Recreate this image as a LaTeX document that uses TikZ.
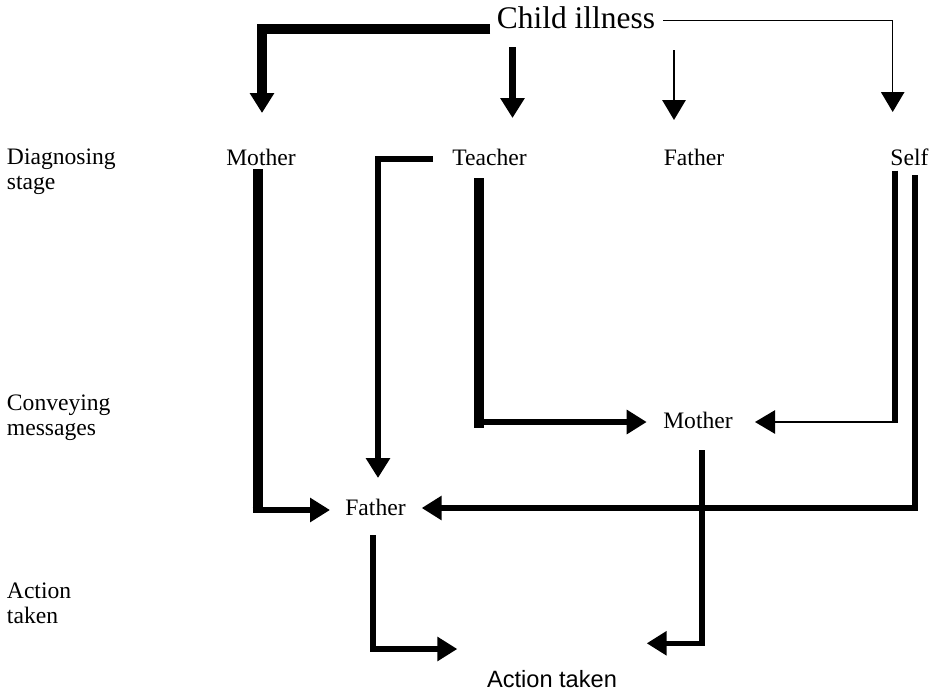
\documentclass[tikz,border=0pt]{standalone}
\usepackage{fontspec}
\setmainfont{Liberation Serif}
\newfontfamily\arialfont{Liberation Sans}
\usetikzlibrary{arrows.meta}
\begin{document}
\begin{tikzpicture}[x=0.75pt,y=-0.75pt,line join=miter,
  lbl/.style={inner sep=0pt, anchor=base, font=\fontsize{17.7pt}{20pt}\selectfont},
  side/.style={lbl, anchor=base west},
  tip/.style={-{Triangle[length=15pt,width=17.5pt]}},
  wA/.style={line width=7.5pt},
  wB/.style={line width=4.6pt},
  wC/.style={line width=4.1pt},
  wD/.style={line width=1.5pt},
  wE/.style={line width=1.1pt}]
\useasboundingbox (0,0) rectangle (933,690);

% texts
\node[lbl, font=\fontsize{23.6pt}{26pt}\selectfont] (ill) at (576,28) {Child illness};
\node[lbl] (m1) at (261,165) {Mother};
\node[lbl] (t1) at (489.5,165) {Teacher};
\node[lbl] (f1) at (694,165) {Father};
\node[lbl] (s1) at (909.5,165) {Self};
\node[lbl] (m2) at (698,428) {Mother};
\node[lbl] (f2) at (375.5,515) {Father};
\node[lbl, font=\arialfont\fontsize{17.7pt}{20pt}\selectfont] (act) at (552,687) {Action taken};

\node[side] (d1) at (6.7,164) {Diagnosing};
\node[side] (d2) at (6.7,189) {stage};
\node[side] (c1) at (6.7,410) {Conveying};
\node[side] (c2) at (6.7,435) {messages};
\node[side] (x1) at (6.7,598) {Action};
\node[side] (x2) at (6.7,623) {taken};

% connector points
\coordinate (illW) at (490,29);
\coordinate (k1) at (262,29);
\coordinate (m1top) at (262,113);
\coordinate (illT) at (512.5,47);
\coordinate (t1top) at (512.5,118);
\coordinate (illF) at (674,50);
\coordinate (f1top) at (674,120);
\coordinate (illE) at (663,20.7);
\coordinate (k2) at (892.7,20.7);
\coordinate (s1top) at (892.7,112);

\coordinate (m1bot) at (257.5,169);
\coordinate (k3) at (257.5,513);
\coordinate (k3h) at (252.5,510);
\coordinate (f2W) at (330,510);

\coordinate (t1W) at (432.7,159);
\coordinate (k4) at (378,159);
\coordinate (f2top) at (378,478);

\coordinate (t1bot) at (479,178);
\coordinate (k5) at (479,428);
\coordinate (k5h) at (474,422);
\coordinate (m2W) at (646.7,422);

\coordinate (s1botL) at (895,170.7);
\coordinate (k6) at (895,423);
\coordinate (k6h) at (897,422);
\coordinate (m2E) at (755,422);

\coordinate (s1botR) at (915,175);
\coordinate (k7) at (915,508);
\coordinate (f2E) at (421.7,508);

\coordinate (m2bot) at (702,450);
\coordinate (k8) at (702,643.3);
\coordinate (actE) at (646.7,643.3);

\coordinate (f2bot) at (373,535);
\coordinate (k9) at (373,649);
\coordinate (actW) at (457.3,649);

% connectors
\draw[wA,tip] (illW) -- (k1) -- (m1top);
\draw[wB,tip] (illT) -- (t1top);
\draw[wD,tip] (illF) -- (f1top);
\draw[wE,tip] (illE) -- (k2) -- (s1top);

\draw[wA] (m1bot) -- (k3);
\draw[wB,tip] (k3h) -- (f2W);

\draw[wB,tip] (t1W) -- (k4) -- (f2top);

\draw[wA] (t1bot) -- (k5);
\draw[wC,tip] (k5h) -- (m2W);

\draw[wC] (s1botL) -- (k6);
\draw[wE,tip] (k6h) -- (m2E);

\draw[wB,tip] (s1botR) -- (k7) -- (f2E);

\draw[wC,tip] (m2bot) -- (k8) -- (actE);
\draw[wC,tip] (f2bot) -- (k9) -- (actW);
\end{tikzpicture}
\end{document}
